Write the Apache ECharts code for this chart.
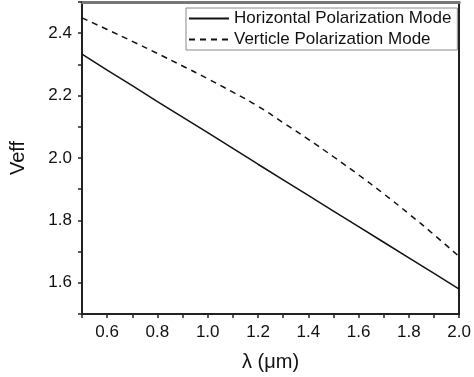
<!DOCTYPE html>
<html>
<head>
<meta charset="utf-8">
<script src="https://cdn.jsdelivr.net/npm/echarts@6/dist/echarts.min.js"></script>
<style>
html,body{margin:0;padding:0;background:#fff;}
#chart{width:474px;height:377px;}
</style>
</head>
<body>
<div id="chart"></div>
<script>
var wavelengths = [0.5,0.6,0.7,0.8,0.9,1.0,1.1,1.2,1.3,1.4,1.5,1.6,1.7,1.8,1.9,2.0];
var horizontalMode = [2.333,2.282,2.232,2.181,2.131,2.081,2.031,1.980,1.930,1.880,1.830,1.780,1.730,1.680,1.630,1.580];
var verticleMode = [2.449,2.412,2.374,2.335,2.295,2.254,2.211,2.166,2.113,2.060,2.004,1.946,1.885,1.821,1.754,1.684];
var seriesNames = ['Horizontal Polarization Mode','Verticle Polarization Mode'];
var xTickLabels = ['0.6','0.8','1.0','1.2','1.4','1.6','1.8','2.0'];
var yTickLabels = ['1.6','1.8','2.0','2.2','2.4'];

function pair(xs, ys){ return xs.map(function(x,i){return [x, ys[i]];}); }
var FONT = '"Liberation Sans", Arial, sans-serif';

var chart = echarts.init(document.getElementById('chart'), null, {renderer:'canvas'});
chart.setOption({
  animation:false,
  backgroundColor:'#fff',
  grid:{left:71, right:12, top:2, bottom:57, containLabel:false},
  legend:{
    left:186, top:8, orient:'vertical',
    itemWidth:40, itemHeight:14, itemGap:4,
    padding:[2,6,2,2],
    borderColor:'#888', borderWidth:1,
    itemStyle:{opacity:0},
    textStyle:{fontFamily:FONT, fontSize:17, color:'#111'},
    data:seriesNames
  },
  xAxis:[{
    type:'value', min:0.5, max:2.0, interval:0.1,
    name:'λ (μm)', nameLocation:'middle', nameGap:38,
    nameTextStyle:{fontFamily:FONT, fontSize:20, color:'#111'},
    axisLine:{show:true, onZero:false, lineStyle:{color:'#222', width:2}},
    axisTick:{show:true, inside:false, length:4, lineStyle:{color:'#222', width:1.5}},
    axisLabel:{fontFamily:FONT, fontSize:17, color:'#111', margin:10,
      formatter:function(v){var s=v.toFixed(1); return xTickLabels.indexOf(s)>=0?s:'';}},
    splitLine:{show:false}
  },{
    type:'value', min:0.5, max:2.0, position:'top',
    axisLine:{show:true, lineStyle:{color:'#777', width:3}},
    axisTick:{show:false}, axisLabel:{show:false}, splitLine:{show:false}
  }],
  yAxis:[{
    type:'value', min:1.5, max:2.5, interval:0.1,
    name:'Veff', nameLocation:'middle', nameGap:54,
    nameTextStyle:{fontFamily:FONT, fontSize:20, color:'#111'},
    axisLine:{show:true, onZero:false, lineStyle:{color:'#222', width:2}},
    axisTick:{show:true, inside:false, length:4, lineStyle:{color:'#222', width:1.5}},
    axisLabel:{fontFamily:FONT, fontSize:17, color:'#111', margin:10,
      formatter:function(v){var s=v.toFixed(1); return yTickLabels.indexOf(s)>=0?s:'';}},
    splitLine:{show:false}
  },{
    type:'value', min:1.5, max:2.5, position:'right',
    axisLine:{show:true, lineStyle:{color:'#222', width:2}},
    axisTick:{show:false}, axisLabel:{show:false}, splitLine:{show:false}
  }],
  series:[{
    name:seriesNames[0], type:'line', symbol:'none', smooth:false,
    data:pair(wavelengths, horizontalMode),
    lineStyle:{color:'#111', width:1.5, type:'solid'},
    itemStyle:{color:'#111'}
  },{
    name:seriesNames[1], type:'line', symbol:'none', smooth:true,
    data:pair(wavelengths, verticleMode),
    lineStyle:{color:'#111', width:1.5, type:[6,5]},
    itemStyle:{color:'#111'}
  }]
});
</script>
</body>
</html>
